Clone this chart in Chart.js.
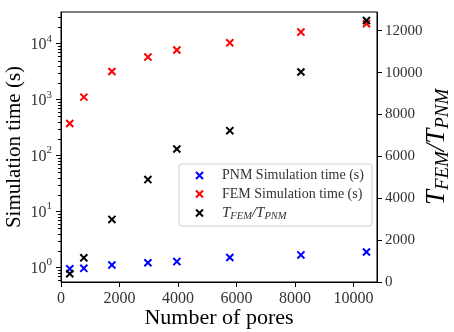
<!DOCTYPE html>
<html>
<head>
<meta charset="utf-8">
<script src="https://cdn.jsdelivr.net/npm/chart.js@4.4.1/dist/chart.umd.min.js"></script>
<style>
  html, body { margin: 0; padding: 0; background: #fff; }
  #wrap { width: 454px; height: 332px; }
</style>
</head>
<body>
<div id="wrap"><canvas id="grafico" width="454" height="332"></canvas></div>
<script>
// ========================= DADOS =========================
const poreCounts = [300, 780, 1740, 2970, 3960, 5770, 8200, 10440];
const pnmTime = [0.94, 0.96, 1.10, 1.21, 1.27, 1.50, 1.67, 1.88];
const femTime = [375, 1110, 3190, 5770, 7730, 10400, 16200, 22900];
const timeRatio = [393, 1154, 2991, 4893, 6355, 7229, 10033, 12495];

const seriesLabels = ['PNM Simulation time (s)', 'FEM Simulation time (s)', 'T_{FEM}/T_{PNM}'];
const seriesColors = ['#0000ff', '#ff0000', '#000000'];

const xTicks = [0, 2000, 4000, 6000, 8000, 10000];
const logTicks = [1, 10, 100, 1000, 10000];
const ratioTicks = [0, 2000, 4000, 6000, 8000, 10000, 12000];

const SERIF = '"Liberation Serif", "DejaVu Serif", serif';
const TICK_COLOR = '#333';

// ========================= TEXTO COM SUBSCRITO =========================
function parseSub(str) {
    const parts = [];
    const re = /_\{([^}]*)\}|([^_]+)/g;
    let m;
    while ((m = re.exec(str)) !== null) {
        if (m[1] !== undefined) parts.push({ t: m[1], sub: true });
        else parts.push({ t: m[2], sub: false });
    }
    return parts;
}

function drawSubText(ctx, str, x, y, size, align) {
    const parts = parseSub(str);
    const subSize = size * 0.7;
    let total = 0;
    parts.forEach(p => {
        ctx.font = `italic ${p.sub ? subSize : size}px ${SERIF}`;
        p.w = ctx.measureText(p.t).width;
        total += p.w;
    });
    let cx = align === 'center' ? x - total / 2 : x;
    ctx.textAlign = 'left';
    ctx.textBaseline = 'middle';
    parts.forEach(p => {
        ctx.font = `italic ${p.sub ? subSize : size}px ${SERIF}`;
        ctx.fillText(p.t, cx, p.sub ? y + size * 0.22 : y);
        cx += p.w;
    });
}

// ========================= DECORAÇÕES =========================
const decoracoes = {
    id: 'decoracoes',
    afterDraw(chart) {
        const { ctx, chartArea: a, scales } = chart;
        ctx.save();
        ctx.strokeStyle = '#000';
        ctx.fillStyle = '#000';
        ctx.lineWidth = 1;
        ctx.strokeRect(a.left, a.top, a.right - a.left, a.bottom - a.top);

        // minor ticks do eixo log
        const y = scales.y;
        for (let d = -1; d <= 4; d++) {
            for (let m = 2; m <= 9; m++) {
                const v = m * Math.pow(10, d);
                if (v < y.min || v > y.max) continue;
                const py = Math.round(y.getPixelForValue(v)) + 0.5;
                ctx.beginPath();
                ctx.moveTo(a.left - 3, py);
                ctx.lineTo(a.left, py);
                ctx.stroke();
            }
        }

        // rótulos 10^n
        ctx.fillStyle = TICK_COLOR;
        ctx.textBaseline = 'middle';
        logTicks.forEach(v => {
            const py = y.getPixelForValue(v);
            const exp = String(Math.round(Math.log10(v)));
            ctx.font = `11px ${SERIF}`;
            const we = ctx.measureText(exp).width;
            ctx.font = `16px ${SERIF}`;
            const wb = ctx.measureText('10').width;
            const right = a.left - 9;
            ctx.textAlign = 'left';
            ctx.fillText('10', right - we - wb, py + 1);
            ctx.font = `11px ${SERIF}`;
            ctx.fillText(exp, right - we, py - 5);
        });

        // legenda
        const lx = 179, ly = 164, lw = 193, lh = 62;
        ctx.beginPath();
        ctx.roundRect(lx, ly, lw, lh, 3);
        ctx.fillStyle = 'rgba(255,255,255,0.8)';
        ctx.fill();
        ctx.strokeStyle = '#d0d0d0';
        ctx.stroke();
        const rowsY = [175.5, 194, 213];
        chart.data.datasets.forEach((ds, i) => {
            const ry = rowsY[i];
            ctx.strokeStyle = ds.borderColor;
            ctx.lineWidth = 2;
            ctx.beginPath();
            ctx.moveTo(196, ry - 3.5); ctx.lineTo(203, ry + 3.5);
            ctx.moveTo(196, ry + 3.5); ctx.lineTo(203, ry - 3.5);
            ctx.stroke();
            ctx.fillStyle = TICK_COLOR;
            if (ds.label.indexOf('_{') >= 0) {
                drawSubText(ctx, ds.label, 222, ry, 15, 'left');
            } else {
                ctx.font = `14px ${SERIF}`;
                ctx.textAlign = 'left';
                ctx.textBaseline = 'middle';
                ctx.fillText(ds.label, 222, ry);
            }
        });

        // título eixo direito
        ctx.fillStyle = '#000';
        ctx.translate(437, (a.top + a.bottom) / 2);
        ctx.rotate(-Math.PI / 2);
        drawSubText(ctx, 'T_{FEM}/T_{PNM}', 0, 0, 27, 'center');
        ctx.restore();
    }
};

// ========================= GRÁFICO =========================
function pontos(ys) {
    return poreCounts.map((x, i) => ({ x: x, y: ys[i] }));
}

const tickFont = { family: SERIF, size: 16 };

new Chart(document.getElementById('grafico'), {
    type: 'scatter',
    data: {
        datasets: [
            { label: seriesLabels[0], data: pontos(pnmTime), yAxisID: 'y', order: 2 },
            { label: seriesLabels[1], data: pontos(femTime), yAxisID: 'y', order: 1 },
            { label: seriesLabels[2], data: pontos(timeRatio), yAxisID: 'y2', order: 0 }
        ].map((ds, i) => Object.assign(ds, {
            borderColor: seriesColors[i],
            backgroundColor: seriesColors[i],
            pointStyle: 'crossRot',
            pointRadius: 5,
            pointBorderWidth: 2,
            showLine: false
        }))
    },
    options: {
        responsive: false,
        animation: false,
        layout: { padding: { top: 5, left: 0, right: 0, bottom: 0 } },
        plugins: {
            legend: { display: false },
            tooltip: { enabled: false }
        },
        scales: {
            x: {
                type: 'linear',
                min: 0,
                max: 10800,
                afterBuildTicks: s => { s.ticks = xTicks.map(v => ({ value: v })); },
                afterFit: s => { s.height = 50; },
                grid: { drawOnChartArea: false, tickLength: 5, color: '#000' },
                border: { color: '#000', width: 1 },
                ticks: { font: tickFont, color: TICK_COLOR, padding: 2, maxRotation: 0, callback: v => String(v) },
                title: { display: true, text: 'Number of pores', font: { family: SERIF, size: 22 }, color: '#000', padding: { top: 0, bottom: 1 } }
            },
            y: {
                type: 'logarithmic',
                position: 'left',
                min: 0.547,
                max: 37000,
                afterBuildTicks: s => { s.ticks = logTicks.map(v => ({ value: v })); },
                afterFit: s => { s.width = 61; },
                grid: { drawOnChartArea: false, tickLength: 5, color: '#000' },
                border: { color: '#000', width: 1 },
                ticks: { display: false },
                title: { display: true, text: 'Simulation time (s)', font: { family: SERIF, size: 21 }, color: '#000', padding: { top: 2, bottom: 0 } }
            },
            y2: {
                type: 'linear',
                position: 'right',
                min: 0,
                max: 12900,
                afterBuildTicks: s => { s.ticks = ratioTicks.map(v => ({ value: v })); },
                afterFit: s => { s.width = 77; },
                grid: { drawOnChartArea: false, tickLength: 5, color: '#000' },
                border: { color: '#000', width: 1 },
                ticks: { font: { family: SERIF, size: 15 }, color: TICK_COLOR, padding: 3, callback: v => String(v) }
            }
        }
    },
    plugins: [decoracoes]
});
</script>
</body>
</html>
